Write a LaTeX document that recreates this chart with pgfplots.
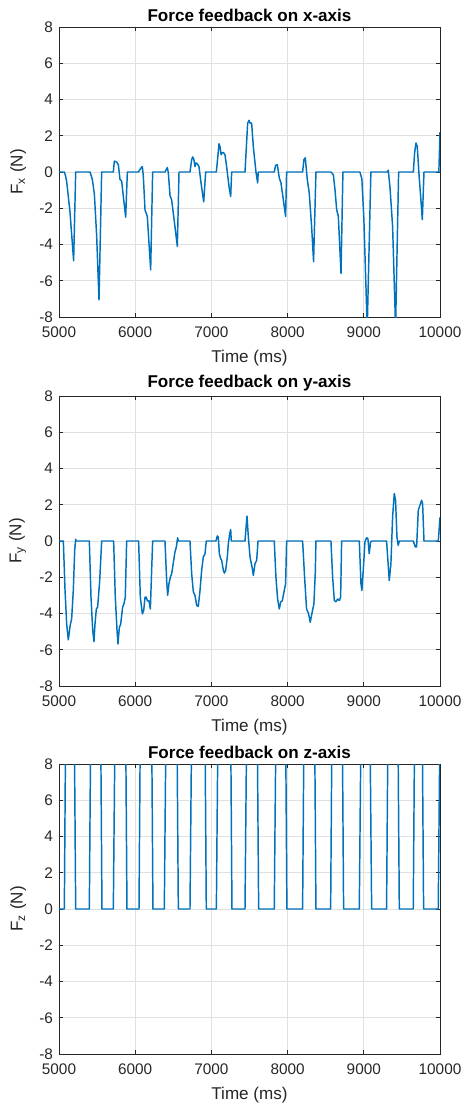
\documentclass[border=0pt]{standalone}
\usepackage{fontspec}
\setmainfont{Liberation Sans}
\usepackage{pgfplots}
\pgfplotsset{compat=1.18}
\definecolor{mlblue}{rgb}{0,0.447,0.741}
\definecolor{axgray}{rgb}{0.15,0.15,0.15}

\pgfplotsset{
  forceax/.style={
    scale only axis,
    width=285.75pt, height=217.5pt,
    anchor=north west,
    xmin=5000, xmax=10000, ymin=-8, ymax=8,
    xtick={5000,6000,...,10000}, ytick={-8,-6,...,8},
    scaled x ticks=false,
    /pgf/number format/assume math mode=true,
    /pgf/number format/1000 sep={},
    tick label style={font=\fontsize{11.5}{13}\selectfont, text=axgray},
    xticklabel style={yshift=-4pt},
    yticklabel style={xshift=-1pt},
    label style={font=\fontsize{12.8}{14}\selectfont, text=axgray},
    xlabel style={yshift=-2pt},
    ylabel style={yshift=3pt},
    title style={font=\bfseries\fontsize{12.8}{14}\selectfont, yshift=-5.5pt},
    xlabel={Time (ms)},
    grid=major, grid style={black!12, line width=0.5pt},
    axis line style={axgray, line width=0.5pt},
    major tick style={axgray, line width=0.5pt},
    major tick length=3pt,
    tick align=inside,
    xtick pos=both, ytick pos=both,
    ticklabel pos=left,
    cycle list={{mlblue, mark=none}},
    every axis plot post/.append style={mlblue, line width=1.1pt, line join=round},
  }
}

\begin{document}
\begin{tikzpicture}
\path[use as bounding box] (0,0) rectangle (347.25pt,-828.75pt);

\begin{axis}[forceax, at={(44.25pt,-20.25pt)},
  title={Force feedback on x-axis}, ylabel={F\textsubscript{x} (N)}]
\addplot coordinates {
(5000,0) (5070,0) (5085,-0.2) (5100,-0.5) (5144,-2.2) (5192,-4.9) (5219,0)
(5407,0) (5437,-0.4) (5464,-1.2) (5494,-3.5) (5525,-7.05) (5560,0)
(5713,0) (5726,0.6) (5757,0.55) (5779,0.4) (5800,-0.4) (5822,-0.5) (5875,-2.5) (5897,0)
(6041,0) (6076,0.22) (6094,0.3) (6107,-0.25) (6129,-2.1) (6159,-2.45) (6203,-5.4) (6229,0)
(6391,0) (6422,0.25) (6435,-0.05) (6457,-1.3) (6479,-1.55) (6553,-4.1) (6575,0)
(6719,0) (6741,0.68) (6754,0.83) (6770,0.7) (6785,0.3) (6797,0.5) (6815,0.45) (6837,0.3) (6864,-0.6) (6899,-1.65) (6925,0)
(7065,0) (7100,1.56) (7113,1.4) (7128,0.95) (7140,1.05) (7157,1.08) (7178,0.95) (7200,0.3) (7231,-0.8) (7253,-1.35) (7266,0)
(7441,0) (7476,2.7) (7494,2.85) (7507,2.7) (7528,2.7) (7550,1.4) (7585,0) (7607,-0.6) (7615,0)
(7825,0) (7843,0.37) (7865,0.4) (7891,-0.33) (7913,-0.6) (7943,-1.5) (7974,-2.45) (7987,0)
(8197,0) (8214,0.68) (8232,0.78) (8258,-0.4) (8284,-1.16) (8315,-3.0) (8341,-4.95) (8372,0)
(8569,0) (8600,-0.15) (8622,-0.97) (8644,-2.08) (8666,-2.45) (8701,-5.6) (8726,0)
(8949,0) (8975,-0.39) (9001,-2.6) (9045,-8.6) (9093,0)
(9308,0) (9321,0.1) (9343,-0.8) (9378,-3.0) (9417,-8.6) (9457,0)
(9650,0) (9667,1.05) (9685,1.6) (9702,1.4) (9724,-0.1) (9746,-1.34) (9768,-2.63) (9790,0)
(9985,0) (10000,2.2)
};
\end{axis}

\begin{axis}[forceax, at={(44.25pt,-297pt)},
  title={Force feedback on y-axis}, ylabel={F\textsubscript{y} (N)}]
\addplot coordinates {
(5000,0) (5057,0) (5079,-2.7) (5101,-4.6) (5122,-5.45) (5136,-5.0) (5149,-4.6) (5166,-4.3) (5188,-2.7) (5206,-0.5) (5219,0.1) (5225,0)
(5398,0) (5420,-3.1) (5442,-4.9) (5459,-5.55) (5472,-4.6) (5490,-3.75) (5507,-3.65) (5534,-2.2) (5560,0)
(5717,0) (5739,-3.1) (5761,-4.9) (5774,-5.68) (5792,-4.76) (5809,-4.6) (5835,-3.65) (5853,-3.45) (5870,-3.1) (5888,0)
(6045,0) (6067,-3.1) (6094,-4.02) (6111,-3.85) (6129,-3.1) (6146,-3.1) (6159,-3.3) (6181,-3.3) (6199,-3.75) (6216,-1.6) (6229,0)
(6391,0) (6413,-2.2) (6426,-3.0) (6443,-2.36) (6461,-2.0) (6479,-1.8) (6505,-1.07) (6522,-0.6) (6540,-0.33) (6557,0.18) (6566,0)
(6719,0) (6741,-1.8) (6763,-2.8) (6785,-3.0) (6807,-3.56) (6828,-3.6) (6850,-2.75) (6872,-1.62) (6894,-0.88) (6916,-0.7) (6933,0)
(7060,0) (7078,0.28) (7091,0.22) (7104,-0.7) (7122,-0.98) (7135,-1.07) (7157,-1.62) (7170,-1.77) (7187,-1.62) (7209,-0.88) (7222,-0.15) (7240,0.4) (7253,0.63) (7261,0)
(7441,0) (7467,1.37) (7485,0.22) (7507,-0.88) (7538,-1.53) (7550,-1.9) (7572,-1.25) (7594,-1.07) (7612,0)
(7825,0) (7847,-2.0) (7869,-3.2) (7891,-3.75) (7908,-3.38) (7930,-3.3) (7956,-2.73) (7974,-2.36) (7987,0)
(8197,0) (8223,-2.0) (8249,-3.75) (8275,-4.0) (8297,-4.48) (8319,-4.0) (8345,-3.47) (8363,-1.8) (8372,0)
(8569,0) (8591,-2.0) (8613,-3.28) (8635,-3.35) (8657,-3.2) (8678,-3.28) (8696,-3.1) (8709,0)
(8941,0) (8963,-2.36) (8975,-2.73) (8993,-1.62) (9015,-0.05) (9037,0.18) (9054,0.13) (9071,-0.7) (9089,-0.05) (9106,0)
(9299,0) (9334,-2.18) (9356,-1.25) (9378,1.33) (9400,2.62) (9417,2.25) (9435,0.22) (9452,-0.24) (9466,0)
(9650,0) (9676,-0.33) (9693,-0.33) (9715,1.7) (9737,1.97) (9759,2.25) (9772,2.05) (9790,0)
(9978,0) (10000,1.3)
};
\end{axis}

\begin{axis}[forceax, at={(44.25pt,-573pt)},
  title={Force feedback on z-axis}, ylabel={F\textsubscript{z} (N)}]
\addplot coordinates {
(5000,0) (5070,0) (5087,10) (5201,10) (5219,0)
(5398,0) (5416,10) (5547,10) (5564,0)
(5713,0) (5735,10) (5875,10) (5892,0)
(6050,0) (6067,10) (6216,10) (6233,0)
(6382,0) (6404,10) (6548,10) (6566,0)
(6719,0) (6741,10) (6916,10) (6933,0)
(7065,0) (7086,10) (7253,10) (7270,0)
(7441,0) (7463,10) (7602,10) (7620,0)
(7825,0) (7847,10) (7974,10) (7991,0)
(8197,0) (8215,10) (8355,10) (8372,0)
(8565,0) (8582,10) (8718,10) (8735,0)
(8941,0) (8963,10) (9081,10) (9103,0)
(9299,0) (9317,10) (9448,10) (9466,0)
(9649,0) (9667,10) (9767,10) (9785,0)
(9977,0) (9999,10) (10000,10)
};
\end{axis}
\end{tikzpicture}
\end{document}
